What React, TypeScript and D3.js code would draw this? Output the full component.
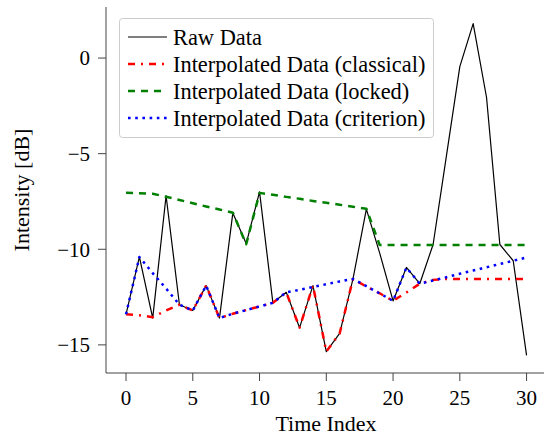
import React, { useEffect, useRef } from "react";
import * as d3 from "d3";

const timeIndex = [0, 1, 2, 3, 4, 5, 6, 7, 8, 9, 10, 11, 12, 13, 14, 15, 16, 17, 18, 19, 20, 21, 22, 23, 24, 25, 26, 27, 28, 29, 30];
const rawData = [-13.4, -10.4, -13.6, -7.2, -12.9, -13.2, -11.9, -13.6, -8.1, -9.7, -7.0, -12.8, -12.25, -14.1, -11.9, -15.35, -14.4, -11.55, -7.9, -10.2, -12.7, -10.95, -11.8, -9.75, -5.1, -0.45, 1.8, -2.05, -9.75, -10.6, -15.55];
const classical = [-13.4, -13.45, -13.55, -13.2, -12.9, -13.2, -11.9, -13.6, -13.37, -13.18, -12.99, -12.8, -12.25, -14.1, -11.9, -15.35, -14.4, -11.55, -11.95, -12.3, -12.7, -12.26, -11.8, -11.6, -11.55, -11.55, -11.55, -11.55, -11.55, -11.55, -11.55];
const locked = [-7.05, -7.07, -7.1, -7.25, -7.42, -7.59, -7.76, -7.92, -8.09, -9.74, -7.05, -7.15, -7.26, -7.36, -7.47, -7.57, -7.67, -7.78, -7.88, -9.78, -9.78, -9.78, -9.78, -9.78, -9.78, -9.78, -9.78, -9.78, -9.78, -9.78, -9.78];
const criterion = [-13.4, -10.4, -11.25, -12.05, -12.9, -13.2, -11.9, -13.6, -13.37, -13.18, -12.99, -12.8, -12.25, -12.12, -11.97, -11.83, -11.68, -11.55, -11.93, -12.31, -12.7, -10.96, -11.8, -11.63, -11.46, -11.28, -11.11, -10.94, -10.77, -10.6, -10.43];

const xTicks = [0, 5, 10, 15, 20, 25, 30];
const yTicks = [0, -5, -10, -15];

const seriesNames = ["Raw Data", "Interpolated Data (classical)", "Interpolated Data (locked)", "Interpolated Data (criterion)"];
const seriesColors = ["#000000", "#ff0000", "#008000", "#0000ff"];
const seriesDashes = ["", "7,6,2,6", "7,6", "2.6,4.6"];
const seriesWidths = [1.2, 2.5, 2.5, 2.5];

const font = "'Liberation Serif', 'Times New Roman', serif";

function App() {
  const ref = useRef<SVGSVGElement>(null);
  const width = 544;
  const height = 437;

  useEffect(() => {
    const svg = d3.select(ref.current);
    svg.selectAll("*").remove();

    const x = d3.scaleLinear().domain([-1.5, 31.5]).range([106, 546.6]);
    const y = d3.scaleLinear().domain([-16.47, 2.67]).range([373, 7]);

    // spines
    svg.append("line")
      .attr("x1", 106).attr("x2", 106).attr("y1", 7).attr("y2", 373)
      .attr("stroke", "#444").attr("stroke-width", 1);
    svg.append("line")
      .attr("x1", 106).attr("x2", width).attr("y1", 373).attr("y2", 373)
      .attr("stroke", "#444").attr("stroke-width", 1);

    // x ticks
    const xt = svg.append("g").selectAll("g").data(xTicks).enter().append("g");
    xt.append("line")
      .attr("x1", d => x(d)).attr("x2", d => x(d))
      .attr("y1", 373).attr("y2", 381)
      .attr("stroke", "#444").attr("stroke-width", 1);
    xt.append("text")
      .attr("x", d => x(d)).attr("y", 405)
      .attr("text-anchor", "middle")
      .style("font-family", font).style("font-size", "21px")
      .text(d => d);

    // y ticks
    const yt = svg.append("g").selectAll("g").data(yTicks).enter().append("g");
    yt.append("line")
      .attr("x1", 98).attr("x2", 106)
      .attr("y1", d => y(d)).attr("y2", d => y(d))
      .attr("stroke", "#444").attr("stroke-width", 1);
    yt.append("text")
      .attr("x", 90).attr("y", d => y(d))
      .attr("dy", "0.35em")
      .attr("text-anchor", "end")
      .style("font-family", font).style("font-size", "21px")
      .text(d => (d < 0 ? "\u2212" + Math.abs(d) : String(d)));

    svg.append("text")
      .attr("x", 326).attr("y", 431)
      .attr("text-anchor", "middle")
      .style("font-family", font).style("font-size", "22px")
      .text("Time Index");
    svg.append("text")
      .attr("transform", "translate(29,190) rotate(-90)")
      .attr("text-anchor", "middle")
      .style("font-family", font).style("font-size", "22px")
      .text("Intensity [dB]");

    // lines
    const allSeries = [rawData, classical, locked, criterion];
    const line = d3.line<number>()
      .x((d, i) => x(timeIndex[i]))
      .y(d => y(d));
    const plot = svg.append("g");
    allSeries.forEach((s, k) => {
      plot.append("path")
        .datum(s)
        .attr("d", line)
        .attr("fill", "none")
        .attr("stroke", seriesColors[k])
        .attr("stroke-width", seriesWidths[k])
        .attr("stroke-dasharray", seriesDashes[k] || null)
        .attr("stroke-linejoin", "round");
    });

    // legend
    const lg = svg.append("g");
    lg.append("rect")
      .attr("x", 119.5).attr("y", 18.5).attr("width", 314).attr("height", 119)
      .attr("rx", 3)
      .attr("fill", "white").attr("fill-opacity", 0.8)
      .attr("stroke", "#cccccc").attr("stroke-width", 1);
    seriesNames.forEach((name, k) => {
      const cy = 37 + k * 27;
      lg.append("line")
        .attr("x1", 128).attr("x2", 167).attr("y1", cy).attr("y2", cy)
        .attr("stroke", seriesColors[k])
        .attr("stroke-width", seriesWidths[k])
        .attr("stroke-dasharray", seriesDashes[k] || null);
      lg.append("text")
        .attr("x", 173).attr("y", cy).attr("dy", "0.35em")
        .style("font-family", font).style("font-size", "22.4px")
        .text(name);
    });
  }, []);

  return (
    <svg
      ref={ref}
      width={width}
      height={height}
      style={{ position: "absolute", left: 0, top: 0, background: "white" }}
    />
  );
}

export default App;
